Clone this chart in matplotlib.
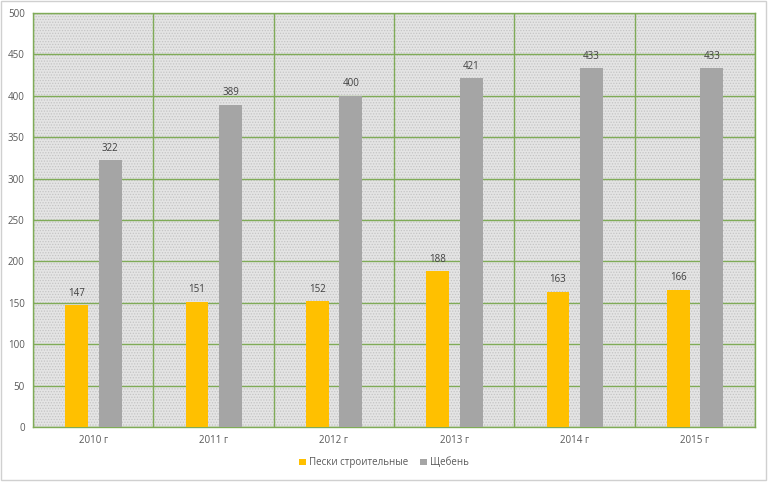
import matplotlib.pyplot as plt
import numpy as np

years = ['2010 г', '2011 г', '2012 г', '2013 г', '2014 г', '2015 г']
sand = [147, 151, 152, 188, 163, 166]
gravel = [322, 389, 400, 421, 433, 433]
names = ['Пески строительные', 'Щебень']

plt.rcParams['font.family'] = ['Open Sans', 'DejaVu Sans']
plt.rcParams['hatch.linewidth'] = 0.6
plt.rcParams['hatch.color'] = '#c4c4c4'

fig = plt.figure(figsize=(7.68, 4.82), dpi=100)
ax = fig.add_axes([0.043, 0.114, 0.940, 0.859])
ax.set_facecolor('#e4e4e4')
# dotted texture of the plot area
ax.add_patch(plt.Rectangle((0, 0), 1, 1, transform=ax.transAxes, facecolor='none',
                           edgecolor='#c4c4c4', lw=0, hatch='......', zorder=0))

x = np.arange(len(years))
w = 0.19
b1 = ax.bar(x - 0.137, sand, w, color='#FFC000', label=names[0], zorder=3)
b2 = ax.bar(x + 0.141, gravel, w, color='#A5A5A5', label=names[1], zorder=3)

for bars in (b1, b2):
    for r in bars:
        ax.text(r.get_x() + r.get_width() / 2, r.get_height() + 8, str(int(r.get_height())),
                ha='center', va='bottom', fontsize=7, color='#404040', zorder=4)

ax.set_xlim(-0.5, len(years) - 0.5)
ax.set_ylim(0, 500)
ax.set_yticks(np.arange(0, 501, 50))
ax.set_xticks(x)
ax.set_xticklabels(years)
ax.set_xticks(np.arange(-0.5, len(years)), minor=True)
ax.set_axisbelow(False)
ax.grid(True, which='major', axis='y', color='#7fab57', lw=1.0)
ax.grid(True, which='minor', axis='x', color='#7fab57', lw=1.0)
ax.tick_params(axis='both', which='both', length=0, labelsize=7, colors='#595959', pad=6)
for s in ax.spines.values():
    s.set_color('#7fab57')
    s.set_linewidth(1.0)

fig.legend(loc='lower center', bbox_to_anchor=(0.5, 0.01), ncol=2, frameon=False,
           fontsize=7, labelcolor='#595959', handlelength=0.7, handleheight=0.7,
           handletextpad=0.3, columnspacing=1.2)

fig.patches.append(plt.Rectangle((0.001, 0.004), 0.997, 0.994, transform=fig.transFigure,
                                 fill=False, edgecolor='#d0d0d0', lw=1))
fig.savefig('out.png', dpi=100)
